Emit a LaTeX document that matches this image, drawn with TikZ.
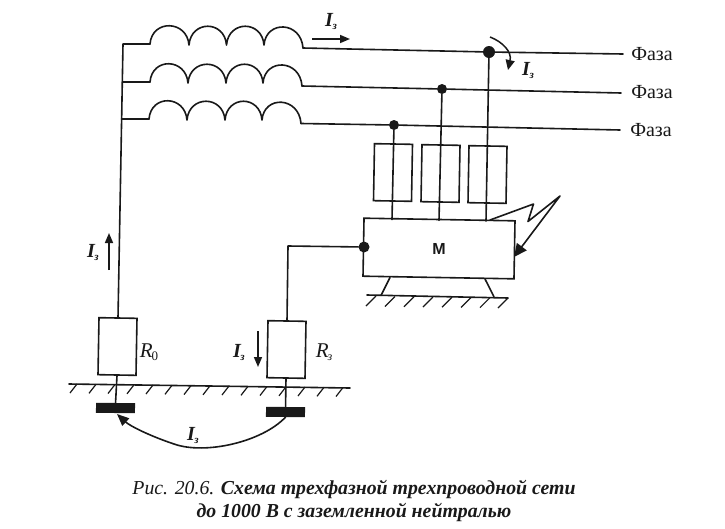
\documentclass[tikz,border=0pt]{standalone}
\usepackage{fontspec}
\setmainfont{Liberation Serif}
\setsansfont{Liberation Sans}
\usetikzlibrary{arrows.meta,calc}
\newcommand{\curI}{{\fontsize{20}{20}\selectfont\itshape\bfseries I}\kern-0.5pt\raisebox{-3pt}{\fontsize{11}{11}\selectfont\itshape\bfseries з}}
\tikzset{
 wire/.style={line width=1.6pt,black!90,line cap=round,line join=round},
 boxn/.style={draw=black!90,line width=1.6pt,minimum width=38pt,minimum height=57pt,inner sep=0pt,rotate=-1,fill=none},
 electrode/.style={fill=black!90,draw=none,minimum width=39pt,minimum height=10pt,inner sep=0pt,rotate=-0.5},
 junction/.style={circle,fill=black!90,draw=none,minimum size=10pt,inner sep=0pt},
 label/.style={inner sep=0pt,text=black!90},
 phase/.style={inner sep=0pt,text=black!90,font=\fontsize{20}{20}\selectfont},
 cur/.style={line width=1.5pt,black!90,-{Triangle[length=10pt,width=8pt]}},
 hatch/.style={line width=1.2pt,black!90}
}
\newcommand{\coil}[5]{%
 \draw[wire] (#1) .. controls ($(#1)+(2,-25)$) and ($(#2)+(-2,-25)$) .. (#2)
   .. controls ($(#2)+(2,-25)$) and ($(#3)+(-2,-25)$) .. (#3)
   .. controls ($(#3)+(2,-25)$) and ($(#4)+(-2,-25)$) .. (#4)
   .. controls ($(#4)+(2,-25)$) and ($(#5)+(-2,-27)$) .. (#5);}
\begin{document}
\begin{tikzpicture}[x=1pt,y=-1pt]
\useasboundingbox[fill=white] (0,0) rectangle (725,528);
% coils terminals
\coordinate (a0) at (150,44); \coordinate (a1) at (189,45); \coordinate (a2) at (226.5,45); \coordinate (a3) at (264,45); \coordinate (a4) at (303,48);
\coordinate (b0) at (150,82); \coordinate (b1) at (188,83); \coordinate (b2) at (226,83); \coordinate (b3) at (263,83); \coordinate (b4) at (302,86);
\coordinate (c0) at (149,119); \coordinate (c1) at (187,120); \coordinate (c2) at (225,120); \coordinate (c3) at (262,120); \coordinate (c4) at (301,123.5);
\coil{a0}{a1}{a2}{a3}{a4}
\coil{b0}{b1}{b2}{b3}{b4}
\coil{c0}{c1}{c2}{c3}{c4}
% phase labels
\node[phase] (pa) at (652,54) {Фаза};
\node[phase] (pb) at (652,92) {Фаза};
\node[phase] (pc) at (651,130) {Фаза};
% junctions
\node[junction,minimum size=12pt] (ja) at (489,52) {};
\node[junction] (jb) at (442,89) {};
\node[junction] (jc) at (394,125) {};
% phase lines
\draw[wire] (a4) -- (ja) -- ($(pa.west)+(-8,0)$);
\draw[wire] (b4) -- (jb) -- ($(pb.west)+(-10,1)$);
\draw[wire] (c4) -- (jc) -- ($(pc.west)+(-10,0)$);
% neutral bus
\node[boxn] (r0) at (117.5,346.5) {};
\coordinate (bustop) at (123,44);
\coordinate (busb) at (122.3,82);
\coordinate (busc) at (121.5,119);
\draw[wire] (a0) -- (bustop) -- (r0.north);
\draw[wire] (b0) -- (busb);
\draw[wire] (c0) -- (busc);
% fuses
\node[boxn] (f1) at (393,172.5) {};
\node[boxn] (f2) at (440.5,173.5) {};
\node[boxn] (f3) at (487.5,174.5) {};
% motor
\node[boxn,minimum width=151pt,minimum height=58pt,font=\sffamily\bfseries\fontsize{16}{16}\selectfont,text=black!90] (m) at (439,248.5) {\rotatebox{1}{М}};
\coordinate (m1) at (392,219.5); \coordinate (m2) at (439,220.3); \coordinate (m3) at (486,221);
\draw[wire] (jc) -- (m1);
\draw[wire] (jb) -- (m2);
\draw[wire] (ja) -- (m3);
% motor earth wire
\node[junction,minimum size=11pt] (jm) at (364,247) {};
\node[boxn] (r3) at (286.5,349.5) {};
\coordinate (corner) at (288,246);
\draw[wire] (jm) -- (corner) -- (r3.north);
% feet and ground under motor
\coordinate (g1) at (367,295); \coordinate (g2) at (508,298);
\draw[wire] (390,277.5) -- (381,295.5);
\draw[wire] (485,279) -- (494,296.8);
\draw[wire] (g1) -- (g2);
\foreach \x/\y in {376/296,395/296.5,414/296.8,433/297,452/297.2,471/297.4,490/297.6,508/298}
  \draw[hatch] (\x,\y) -- (\x-10,\y+10);
% lightning
\coordinate (l0) at (490,220); \coordinate (l1) at (533.5,204); \coordinate (l2) at (528,221.5); \coordinate (l3) at (560,196); \coordinate (l4) at (514,257);
\draw[wire,-{Triangle[length=13pt,width=12pt]}] (l0) -- (l1) -- (l2) -- (l3) -- (l4);
% earth under resistors
\draw[wire] (69,384) -- (350,388);
\foreach \x/\y in {85/384,104/384.3,123/384.5,142/384.8,161/385,180/385.3,199/385.6,218/385.8,237/386,256/386.3,275/386.5,294/386.8,313/387,332/387.3,351/387.5}
  \draw[hatch] (\x-8,\y) -- (\x-15,\y+9);
\node[electrode] (e0) at (115.5,408) {};
\node[electrode] (e3) at (285.5,412) {};
\draw[wire] (r0.south) -- (e0.north);
\draw[wire] (r3.south) -- (e3.north);
\draw[wire,-{Triangle[length=12pt,width=10pt]}] (e3.south) .. controls (262,442) and (205,455) .. (174,444) .. controls (150,436) and (130,426) .. (117,414);
% currents
\coordinate (t1) at (312,39); \coordinate (t2) at (350,39);
\draw[cur] (t1) -- (t2);
\coordinate (u1) at (109,270); \coordinate (u2) at (109,233);
\draw[cur] (u1) -- (u2);
\coordinate (d1) at (258,331); \coordinate (d2) at (258,367);
\draw[cur] (d1) -- (d2);
\coordinate (v1) at (490,37); \coordinate (v2) at (508,70);
\draw[cur,-{Triangle[length=10pt,width=9pt]}] (v1) .. controls (503,42) and (512,52) .. (v2);
\node[label] (i1) at (331,22) {\curI};
\node[label] (i2) at (528,71) {\curI};
\node[label] (i3) at (93,252) {\curI};
\node[label] (i4) at (239,352) {\curI};
\node[label] (i5) at (193,435) {\curI};
\node[label] (rl0) at (149,352) {{\fontsize{21}{21}\selectfont\itshape R}\kern-1pt\raisebox{-3pt}{\fontsize{13}{13}\selectfont 0}};
\node[label] (rl3) at (324,352) {{\fontsize{21}{21}\selectfont\itshape R}\kern-1pt\raisebox{-3pt}{\fontsize{12}{12}\selectfont\itshape з}};
% caption
\node[label,font=\itshape\fontsize{19.8}{23}\selectfont,align=center] (cap) at (354,501)
 {Рис. 20.6. \textbf{Схема трехфазной трехпроводной сети}\\\textbf{до 1000 В с заземленной нейтралью}};
\end{tikzpicture}
\end{document}
